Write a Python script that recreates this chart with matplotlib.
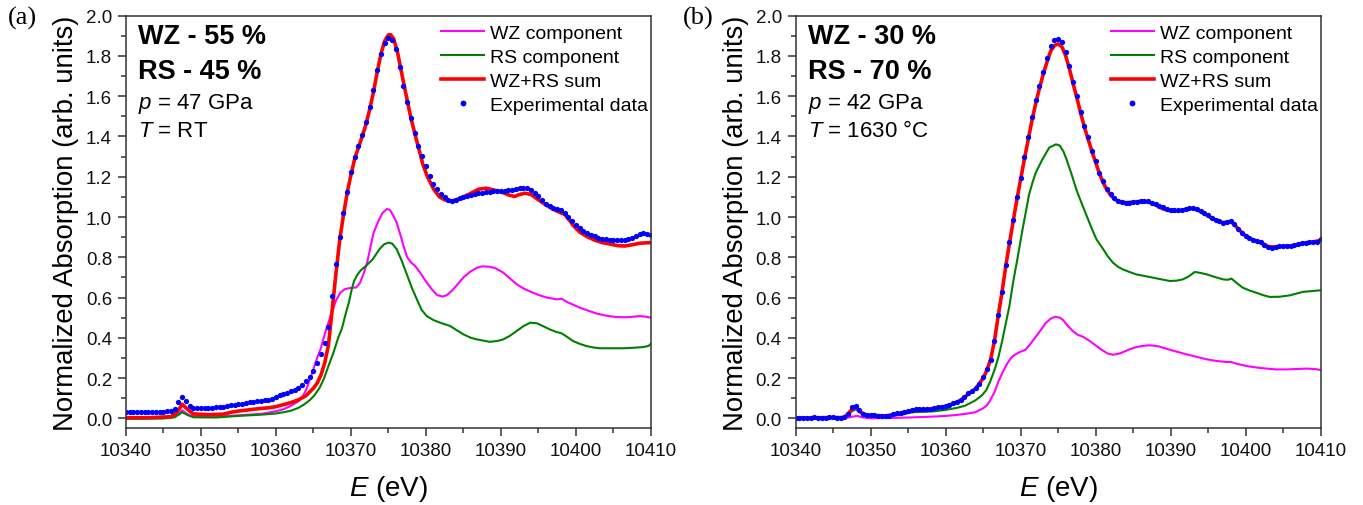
import numpy as np
import matplotlib
matplotlib.use("Agg")
import matplotlib.pyplot as plt
from matplotlib.ticker import MultipleLocator, FormatStrFormatter
from matplotlib.transforms import Bbox, TransformedBbox

plt.rcParams['font.family'] = ['Liberation Sans', 'DejaVu Sans']
plt.rcParams['mathtext.fontset'] = 'custom'
plt.rcParams['mathtext.rm'] = 'Liberation Sans'
plt.rcParams['mathtext.it'] = 'Liberation Sans:italic'

# ---------------- panel (a): p = 47 GPa, RT ----------------
# experimental points, 0.5 eV scan step from 10340 eV
exp_a = [
    0.030, 0.030, 0.031, 0.031, 0.031, 0.030, 0.031, 0.032, 0.032, 0.033,
    0.033, 0.034, 0.036, 0.045, 0.080, 0.106, 0.085, 0.062, 0.053, 0.052,
    0.052, 0.053, 0.052, 0.053, 0.054, 0.056, 0.058, 0.062, 0.066, 0.068,
    0.071, 0.073, 0.076, 0.079, 0.081, 0.084, 0.087, 0.090, 0.093, 0.097,
    0.106, 0.114, 0.120, 0.126, 0.134, 0.143, 0.153, 0.168, 0.185, 0.207,
    0.235, 0.275, 0.320, 0.375, 0.455, 0.610, 0.765, 0.900, 1.018, 1.126,
    1.225, 1.300, 1.355, 1.405, 1.470, 1.545, 1.630, 1.728, 1.810, 1.865,
    1.890, 1.880, 1.835, 1.745, 1.650, 1.570, 1.490, 1.415, 1.355, 1.305,
    1.255, 1.205, 1.165, 1.140, 1.115, 1.098, 1.085, 1.082, 1.086, 1.092,
    1.098, 1.105, 1.110, 1.114, 1.118, 1.121, 1.124, 1.126, 1.127, 1.128,
    1.129, 1.130, 1.132, 1.134, 1.137, 1.142, 1.146, 1.143, 1.136, 1.120,
    1.105, 1.085, 1.066, 1.055, 1.045, 1.038, 1.036, 1.020, 1.000, 0.980,
    0.960, 0.945, 0.932, 0.922, 0.912, 0.905, 0.898, 0.893, 0.890, 0.888,
    0.887, 0.886, 0.886, 0.887, 0.890, 0.896, 0.905, 0.915, 0.922, 0.918,
    0.910]

sum_a_E = [10340, 10343, 10346, 10346.8, 10347.5, 10348.2, 10349, 10351, 10353, 10354,
           10355, 10357, 10358, 10359, 10360, 10361, 10362, 10363, 10364, 10365,
           10365.5, 10366, 10366.5, 10367, 10367.5, 10368, 10368.5, 10369, 10369.5, 10370,
           10370.5, 10371, 10371.5, 10372, 10372.5, 10373, 10373.5, 10374, 10374.5, 10375,
           10375.3, 10375.7, 10376.2, 10377, 10378, 10379, 10379.6, 10380.2, 10381, 10381.8,
           10382.5, 10383.2, 10384, 10385, 10386, 10387, 10388, 10389, 10390, 10391,
           10391.8, 10392.5, 10393.2, 10394, 10395, 10396, 10397, 10398, 10398.5, 10399,
           10399.7, 10400.5, 10401.5, 10402.5, 10403.5, 10404.5, 10405.5, 10406.5, 10407.5, 10408.5,
           10409.5, 10410]
sum_a = [0.003, 0.003, 0.008, 0.030, 0.070, 0.045, 0.022, 0.018, 0.021, 0.030,
         0.036, 0.045, 0.049, 0.052, 0.058, 0.068, 0.078, 0.092, 0.112, 0.150,
         0.175, 0.215, 0.275, 0.365, 0.540, 0.720, 0.885, 1.010, 1.120, 1.210,
         1.290, 1.345, 1.400, 1.460, 1.535, 1.620, 1.720, 1.810, 1.875, 1.905,
         1.905, 1.885, 1.820, 1.670, 1.490, 1.345, 1.260, 1.200, 1.140, 1.100,
         1.085, 1.078, 1.085, 1.100, 1.118, 1.138, 1.143, 1.135, 1.125, 1.110,
         1.102, 1.112, 1.118, 1.112, 1.085, 1.060, 1.038, 1.020, 1.013, 0.990,
         0.955, 0.925, 0.902, 0.885, 0.873, 0.866, 0.858, 0.856, 0.862, 0.870,
         0.872, 0.873]

wz_a_E = [10340, 10346, 10347, 10347.5, 10348.2, 10349, 10352, 10355, 10358, 10360,
          10361, 10362, 10363, 10363.5, 10364, 10364.7, 10365.3, 10366, 10366.6, 10367.3,
          10368, 10368.6, 10369.2, 10370, 10370.7, 10371.2, 10371.7, 10372.2, 10373, 10373.6,
          10374.2, 10374.8, 10375.2, 10375.6, 10376.1, 10376.6, 10377, 10377.5, 10378, 10378.6,
          10379.2, 10380, 10380.8, 10381.5, 10382.2, 10382.8, 10383.5, 10384.2, 10385, 10385.9,
          10386.8, 10387.5, 10388.5, 10389.3, 10390.3, 10391.2, 10392.1, 10393, 10394, 10395,
          10396.1, 10397.4, 10398.1, 10398.8, 10399.6, 10400.5, 10401.6, 10402.8, 10404, 10405.4,
          10406.5, 10407.2, 10408.5, 10409.3, 10410]
wz_a = [0.003, 0.005, 0.020, 0.040, 0.020, 0.010, 0.008, 0.015, 0.022, 0.035,
        0.045, 0.062, 0.085, 0.105, 0.140, 0.210, 0.280, 0.350, 0.430, 0.510,
        0.585, 0.625, 0.642, 0.648, 0.650, 0.672, 0.720, 0.780, 0.920, 0.975,
        1.020, 1.040, 1.035, 1.010, 0.972, 0.910, 0.856, 0.800, 0.775, 0.755,
        0.725, 0.680, 0.640, 0.612, 0.605, 0.612, 0.635, 0.665, 0.700, 0.728,
        0.748, 0.755, 0.753, 0.745, 0.724, 0.695, 0.666, 0.645, 0.628, 0.613,
        0.600, 0.591, 0.594, 0.578, 0.565, 0.550, 0.535, 0.520, 0.510, 0.503,
        0.502, 0.503, 0.508, 0.505, 0.500]

rs_a_E = [10340, 10345, 10346.5, 10347.5, 10348.3, 10349, 10352, 10355, 10358, 10360,
          10361, 10362, 10363, 10363.8, 10364.5, 10365.1, 10365.8, 10366.4, 10367, 10367.7,
          10368.3, 10368.8, 10369.3, 10369.7, 10370.1, 10370.4, 10370.8, 10371.3, 10372, 10372.9,
          10373.8, 10374.4, 10375, 10375.5, 10376.1, 10376.8, 10377.4, 10378.1, 10378.8, 10379.4,
          10380.1, 10381, 10381.9, 10383.2, 10384, 10385, 10386, 10386.8, 10388.5, 10389.5,
          10390.3, 10391.2, 10392.1, 10393, 10393.9, 10394.8, 10395.6, 10396.5, 10397.3, 10398.1,
          10398.8, 10399.6, 10400.5, 10401.4, 10402.3, 10403.2, 10405, 10406.3, 10407.5, 10409,
          10409.7, 10410]
rs_a = [-0.003, -0.001, 0.005, 0.030, 0.015, 0.005, 0.004, 0.012, 0.018, 0.024,
        0.030, 0.038, 0.052, 0.070, 0.090, 0.113, 0.150, 0.197, 0.260, 0.330,
        0.400, 0.447, 0.520, 0.572, 0.640, 0.680, 0.710, 0.735, 0.757, 0.790,
        0.840, 0.864, 0.873, 0.868, 0.840, 0.780, 0.720, 0.650, 0.590, 0.540,
        0.508, 0.488, 0.475, 0.459, 0.440, 0.417, 0.400, 0.392, 0.380, 0.384,
        0.392, 0.410, 0.434, 0.458, 0.475, 0.472, 0.458, 0.442, 0.430, 0.422,
        0.405, 0.384, 0.370, 0.359, 0.352, 0.348, 0.348, 0.348, 0.350, 0.354,
        0.360, 0.371]

# ---------------- panel (b): p = 42 GPa, 1630 C ----------------
exp_b = [
    0.002, 0.002, 0.000, 0.002, 0.003, 0.008, 0.003, 0.002, 0.001, 0.005,
    0.007, 0.004, 0.003, 0.006, 0.020, 0.055, 0.062, 0.040, 0.022, 0.015,
    0.018, 0.017, 0.012, 0.010, 0.012, 0.013, 0.020, 0.028, 0.025, 0.030,
    0.035, 0.043, 0.045, 0.044, 0.046, 0.045, 0.047, 0.050, 0.054, 0.058,
    0.062, 0.066, 0.074, 0.082, 0.092, 0.108, 0.125, 0.135, 0.150, 0.172,
    0.205, 0.245, 0.290, 0.385, 0.515, 0.628, 0.760, 0.876, 0.984, 1.100,
    1.195, 1.300, 1.395, 1.495, 1.580, 1.650, 1.722, 1.790, 1.850, 1.877,
    1.886, 1.870, 1.820, 1.750, 1.670, 1.600, 1.520, 1.450, 1.395, 1.330,
    1.278, 1.220, 1.179, 1.140, 1.115, 1.095, 1.080, 1.074, 1.071, 1.072,
    1.074, 1.076, 1.078, 1.081, 1.078, 1.072, 1.064, 1.055, 1.048, 1.042,
    1.037, 1.034, 1.033, 1.036, 1.040, 1.045, 1.047, 1.040, 1.028, 1.018,
    1.008, 0.996, 0.986, 0.978, 0.972, 0.975, 0.980, 0.965, 0.940, 0.922,
    0.905, 0.895, 0.887, 0.880, 0.874, 0.862, 0.852, 0.848, 0.852, 0.856,
    0.855, 0.857, 0.856, 0.860, 0.865, 0.869, 0.873, 0.876, 0.878, 0.874,
    0.889]

sum_b_E = [10340, 10346.5, 10347.5, 10348, 10348.7, 10349.5, 10352, 10354, 10356, 10358,
           10360, 10361, 10362, 10363, 10364, 10365, 10365.5, 10366, 10366.5, 10367,
           10367.5, 10368, 10368.5, 10369, 10369.5, 10370, 10370.5, 10371, 10371.5, 10372,
           10372.5, 10373, 10373.5, 10374, 10374.5, 10375, 10375.5, 10376, 10376.5, 10377,
           10377.5, 10378, 10378.5, 10379, 10379.5, 10380, 10380.5, 10381, 10381.5, 10382,
           10382.5, 10383, 10384, 10385, 10386, 10387, 10388, 10389, 10390, 10391,
           10392, 10393, 10394, 10395, 10396, 10397, 10398, 10398.5, 10399, 10400,
           10401, 10402, 10403, 10404, 10405, 10406, 10407, 10408, 10409, 10410]
sum_b = [0.002, 0.004, 0.045, 0.055, 0.030, 0.015, 0.012, 0.025, 0.042, 0.046,
         0.060, 0.072, 0.090, 0.120, 0.148, 0.200, 0.240, 0.295, 0.385, 0.510,
         0.625, 0.755, 0.870, 0.980, 1.090, 1.190, 1.290, 1.385, 1.480, 1.565,
         1.640, 1.710, 1.770, 1.825, 1.852, 1.860, 1.845, 1.800, 1.735, 1.660,
         1.590, 1.515, 1.445, 1.385, 1.325, 1.270, 1.215, 1.170, 1.135, 1.108,
         1.090, 1.078, 1.071, 1.074, 1.078, 1.075, 1.060, 1.040, 1.030, 1.030,
         1.038, 1.045, 1.027, 1.005, 0.985, 0.972, 0.978, 0.962, 0.940, 0.905,
         0.886, 0.873, 0.853, 0.851, 0.855, 0.856, 0.864, 0.872, 0.876, 0.885]

wz_b_E = [10340, 10346.5, 10347.5, 10348.2, 10349, 10350, 10353, 10355, 10358, 10360,
          10361.5, 10362.6, 10363.9, 10365, 10365.5, 10365.9, 10366.5, 10367, 10367.6, 10368.2,
          10368.7, 10369.1, 10369.8, 10370.6, 10371.3, 10372, 10372.7, 10373.3, 10374, 10374.6,
          10375.2, 10375.6, 10376.1, 10376.9, 10377.6, 10378.3, 10379.2, 10380, 10380.8, 10381.6,
          10382.3, 10383, 10383.6, 10384.5, 10385.4, 10386.3, 10387.2, 10388.3, 10389.4, 10390.7,
          10392.1, 10393.5, 10394.8, 10396.1, 10397.4, 10398, 10398.7, 10400.1, 10401.5, 10402.8,
          10404, 10405.4, 10406.8, 10408.1, 10409.2, 10410]
wz_b = [0.000, 0.000, 0.008, 0.012, 0.004, 0.000, 0.002, 0.004, 0.008, 0.012,
        0.017, 0.022, 0.030, 0.050, 0.065, 0.088, 0.130, 0.180, 0.230, 0.272,
        0.300, 0.313, 0.328, 0.340, 0.370, 0.405, 0.440, 0.472, 0.495, 0.505,
        0.500, 0.490, 0.467, 0.435, 0.415, 0.405, 0.384, 0.362, 0.340, 0.322,
        0.316, 0.320, 0.328, 0.343, 0.354, 0.360, 0.363, 0.358, 0.346, 0.332,
        0.318, 0.305, 0.293, 0.285, 0.280, 0.280, 0.272, 0.260, 0.252, 0.247,
        0.243, 0.243, 0.245, 0.247, 0.245, 0.240]

rs_b_E = [10340, 10346.5, 10347.5, 10348, 10348.7, 10349.5, 10352, 10354, 10355.5, 10357,
          10358.5, 10360, 10361.5, 10362.6, 10363.9, 10364.8, 10365.4, 10365.9, 10366.5, 10367,
          10367.5, 10368, 10368.5, 10369, 10369.5, 10370.2, 10370.7, 10371.1, 10371.6, 10372,
          10372.9, 10373.8, 10374.7, 10375.2, 10375.7, 10376.1, 10376.8, 10377.4, 10378.1, 10378.8,
          10379.5, 10380.1, 10381, 10381.6, 10382.3, 10383, 10383.6, 10384.5, 10385.4, 10386.5,
          10387.6, 10388.8, 10389.9, 10390.8, 10391.6, 10392.4, 10393.2, 10394, 10394.8, 10395.8,
          10397, 10397.6, 10398.1, 10398.8, 10399.6, 10400.5, 10401.4, 10402.3, 10403.2, 10404.5,
          10405.9, 10406.8, 10407.6, 10408.8, 10410]
rs_b = [0.000, 0.002, 0.035, 0.045, 0.025, 0.008, 0.008, 0.018, 0.030, 0.032,
        0.035, 0.042, 0.052, 0.063, 0.088, 0.113, 0.140, 0.180, 0.240, 0.300,
        0.380, 0.470, 0.560, 0.680, 0.780, 0.930, 1.030, 1.110, 1.175, 1.220,
        1.287, 1.345, 1.361, 1.355, 1.325, 1.287, 1.210, 1.138, 1.070, 1.005,
        0.940, 0.889, 0.840, 0.805, 0.773, 0.752, 0.740, 0.727, 0.715, 0.707,
        0.699, 0.690, 0.682, 0.684, 0.690, 0.705, 0.727, 0.722, 0.715, 0.703,
        0.690, 0.688, 0.694, 0.672, 0.649, 0.635, 0.624, 0.612, 0.603, 0.604,
        0.611, 0.620, 0.628, 0.632, 0.636]

energy_grid = np.arange(10340, 10410.01, 0.5)

panels = [
    dict(ax=[0.0924, 0.1522, 0.3852, 0.8148], tag='(a)', tag_x=0.006,
         exp=exp_a, sum=(sum_a_E, sum_a), wz=(wz_a_E, wz_a), rs=(rs_a_E, rs_a),
         lines=['WZ - 55 %', 'RS - 45 %', '$p$ = 47 GPa', '$T$ = RT']),
    dict(ax=[0.5838, 0.1522, 0.3852, 0.8148], tag='(b)', tag_x=0.501,
         exp=exp_b, sum=(sum_b_E, sum_b), wz=(wz_b_E, wz_b), rs=(rs_b_E, rs_b),
         lines=['WZ - 30 %', 'RS - 70 %', '$p$ = 42 GPa', '$T$ = 1630 °C']),
]

fig = plt.figure(figsize=(13.63, 5.06), dpi=100)
axes = []

for p in panels:
    ax = fig.add_axes(p['ax'])
    axes.append(ax)
    ax.plot(p['wz'][0], p['wz'][1], color='#ff00ff', lw=1.5, label='WZ component')
    ax.plot(p['rs'][0], p['rs'][1], color='#008000', lw=1.5, label='RS component')
    ax.plot(p['sum'][0], p['sum'][1], color='#ff0000', lw=2.6, label='WZ+RS sum')
    ax.plot(energy_grid, p['exp'], 'o', color='#0000ff', ms=3.8, mew=0,
            label='Experimental data')

    ax.set_xlim(10340, 10410)
    ax.set_ylim(-0.048, 2.0)
    ax.xaxis.set_major_locator(MultipleLocator(10))
    ax.xaxis.set_minor_locator(MultipleLocator(5))
    ax.yaxis.set_major_locator(MultipleLocator(0.2))
    ax.yaxis.set_minor_locator(MultipleLocator(0.1))
    ax.yaxis.set_major_formatter(FormatStrFormatter('%.1f'))
    ax.tick_params(which='both', direction='out', top=False, right=False,
                   color='#333333', width=1.1, labelsize=13.5, labelcolor='#111111')
    ax.tick_params(which='major', length=6, pad=4)
    ax.tick_params(which='minor', length=3.5)
    for s in ax.spines.values():
        s.set_linewidth(1.1)
        s.set_color('#333333')

    ax.set_xlabel('$E$ (eV)', fontsize=20, labelpad=10)
    ax.set_ylabel('Normalized Absorption (arb. units)', fontsize=19.8, labelpad=5)

    ys = [0.933, 0.848, 0.776, 0.709]
    for i, (txt, y) in enumerate(zip(p['lines'], ys)):
        bold = i < 2
        ax.text(0.023, y, txt, transform=ax.transAxes, va='baseline', ha='left',
                fontsize=19.5 if bold else 16, fontweight='bold' if bold else 'normal')

    ax.legend(loc='upper right', bbox_to_anchor=(1.02, 1.012), frameon=False,
              fontsize=14, handlelength=2.2, handletextpad=0.3,
              labelspacing=0.33, borderaxespad=0.3, numpoints=1, markerscale=1.1)

    fig.text(p['tag_x'], 0.9506, p['tag'], fontsize=19, family='Liberation Serif',
             va='baseline', ha='left')

# the 10410 label of the left panel is cut at the edge of its half of the figure
fig.canvas.draw()
for tick in axes[0].xaxis.get_major_ticks():
    if abs(tick.get_loc() - 10410) < 1e-6:
        tick.label1.set_clip_box(TransformedBbox(Bbox.from_extents(0, 0, 677 / 1363, 1),
                                                 fig.transFigure))
        tick.label1.set_clip_on(True)

fig.savefig('out.png', dpi=100)
